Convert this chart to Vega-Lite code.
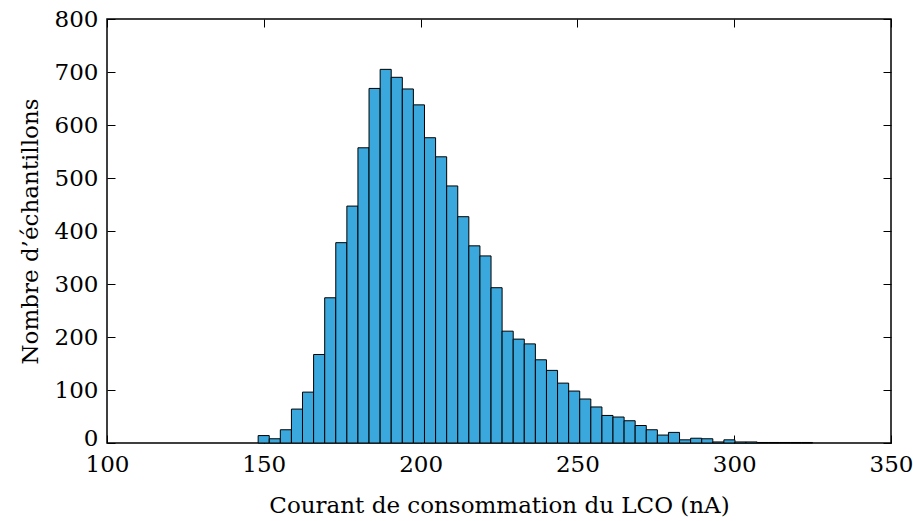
{
  "$schema": "https://vega.github.io/schema/vega-lite/v6.json",
  "width": 784,
  "height": 424,
  "autosize": {"type": "none"},
  "padding": {"left": 107, "top": 19, "right": 22, "bottom": 78},
  "config": {
    "font": "DejaVu Serif",
    "view": {"stroke": "black", "strokeWidth": 1.5},
    "axis": {
      "domain": false,
      "grid": false,
      "labelFlush": false,
      "labelOverlap": false,
      "tickColor": "black",
      "tickWidth": 1,
      "labelColor": "black",
      "labelFontSize": 23,
      "labelFont": "DejaVu Serif",
      "titleFont": "DejaVu Serif",
      "titleFontSize": 23,
      "titleFontWeight": "normal",
      "titleColor": "black"
    }
  },
  "data": {
    "values": [
      {"lo": 148.20, "hi": 151.74, "n": 14},
      {"lo": 151.74, "hi": 155.27, "n": 8},
      {"lo": 155.27, "hi": 158.81, "n": 25},
      {"lo": 158.81, "hi": 162.34, "n": 64},
      {"lo": 162.34, "hi": 165.88, "n": 96},
      {"lo": 165.88, "hi": 169.42, "n": 167},
      {"lo": 169.42, "hi": 172.95, "n": 274},
      {"lo": 172.95, "hi": 176.49, "n": 378},
      {"lo": 176.49, "hi": 180.02, "n": 447},
      {"lo": 180.02, "hi": 183.56, "n": 557},
      {"lo": 183.56, "hi": 187.10, "n": 669},
      {"lo": 187.10, "hi": 190.63, "n": 705},
      {"lo": 190.63, "hi": 194.17, "n": 690},
      {"lo": 194.17, "hi": 197.70, "n": 668},
      {"lo": 197.70, "hi": 201.24, "n": 638},
      {"lo": 201.24, "hi": 204.78, "n": 576},
      {"lo": 204.78, "hi": 208.31, "n": 540},
      {"lo": 208.31, "hi": 211.85, "n": 485},
      {"lo": 211.85, "hi": 215.38, "n": 427},
      {"lo": 215.38, "hi": 218.92, "n": 372},
      {"lo": 218.92, "hi": 222.46, "n": 353},
      {"lo": 222.46, "hi": 225.99, "n": 293},
      {"lo": 225.99, "hi": 229.53, "n": 211},
      {"lo": 229.53, "hi": 233.06, "n": 196},
      {"lo": 233.06, "hi": 236.60, "n": 187},
      {"lo": 236.60, "hi": 240.14, "n": 157},
      {"lo": 240.14, "hi": 243.67, "n": 137},
      {"lo": 243.67, "hi": 247.21, "n": 113},
      {"lo": 247.21, "hi": 250.74, "n": 98},
      {"lo": 250.74, "hi": 254.28, "n": 83},
      {"lo": 254.28, "hi": 257.82, "n": 68},
      {"lo": 257.82, "hi": 261.35, "n": 52},
      {"lo": 261.35, "hi": 264.89, "n": 49},
      {"lo": 264.89, "hi": 268.42, "n": 42},
      {"lo": 268.42, "hi": 271.96, "n": 33},
      {"lo": 271.96, "hi": 275.50, "n": 25},
      {"lo": 275.50, "hi": 279.03, "n": 15},
      {"lo": 279.03, "hi": 282.57, "n": 20},
      {"lo": 282.57, "hi": 286.10, "n": 6},
      {"lo": 286.10, "hi": 289.64, "n": 9},
      {"lo": 289.64, "hi": 293.18, "n": 8},
      {"lo": 293.18, "hi": 296.71, "n": 2},
      {"lo": 296.71, "hi": 300.25, "n": 6},
      {"lo": 300.25, "hi": 303.78, "n": 2},
      {"lo": 303.78, "hi": 307.32, "n": 2},
      {"lo": 307.32, "hi": 310.86, "n": 1},
      {"lo": 310.86, "hi": 314.39, "n": 1},
      {"lo": 314.39, "hi": 317.93, "n": 1},
      {"lo": 317.93, "hi": 321.46, "n": 1},
      {"lo": 321.46, "hi": 325.00, "n": 1}
    ]
  },
  "layer": [
    {
      "mark": {"type": "bar", "fill": "#3aa8dc", "stroke": "black", "strokeWidth": 1},
      "encoding": {
        "x": {
          "field": "lo",
          "type": "quantitative",
          "scale": {"domain": [100, 350], "nice": false, "zero": false},
          "axis": {
            "orient": "bottom",
            "values": [100, 150, 200, 250, 300, 350],
            "tickSize": -8,
            "labelPadding": 18,
            "title": "Courant de consommation du LCO (nA)",
            "titlePadding": 18
          }
        },
        "x2": {"field": "hi"},
        "y": {
          "field": "n",
          "type": "quantitative",
          "scale": {"domain": [0, 800], "nice": false},
          "axis": {
            "orient": "left",
            "values": [0, 100, 200, 300, 400, 500, 600, 700, 800],
            "tickSize": -8,
            "labelPadding": 17,
            "labelOffset": {"condition": {"test": "datum.value == 0", "value": -5}, "value": 0},
            "title": "Nombre d\u2019\u00e9chantillons",
            "titlePadding": 12
          }
        },
        "y2": {"datum": 0}
      }
    },
    {
      "mark": {"type": "bar", "opacity": 0},
      "encoding": {
        "x": {
          "field": "lo",
          "type": "quantitative",
          "scale": {"domain": [100, 350], "nice": false, "zero": false},
          "axis": {
            "orient": "top",
            "values": [100, 150, 200, 250, 300, 350],
            "tickSize": -8,
            "labels": false,
            "title": null
          }
        },
        "x2": {"field": "hi"},
        "y": {
          "field": "n",
          "type": "quantitative",
          "scale": {"domain": [0, 800], "nice": false},
          "axis": {
            "orient": "right",
            "values": [0, 100, 200, 300, 400, 500, 600, 700, 800],
            "tickSize": -8,
            "labels": false,
            "title": null
          }
        },
        "y2": {"datum": 0}
      }
    }
  ],
  "resolve": {"axis": {"x": "independent", "y": "independent"}}
}
